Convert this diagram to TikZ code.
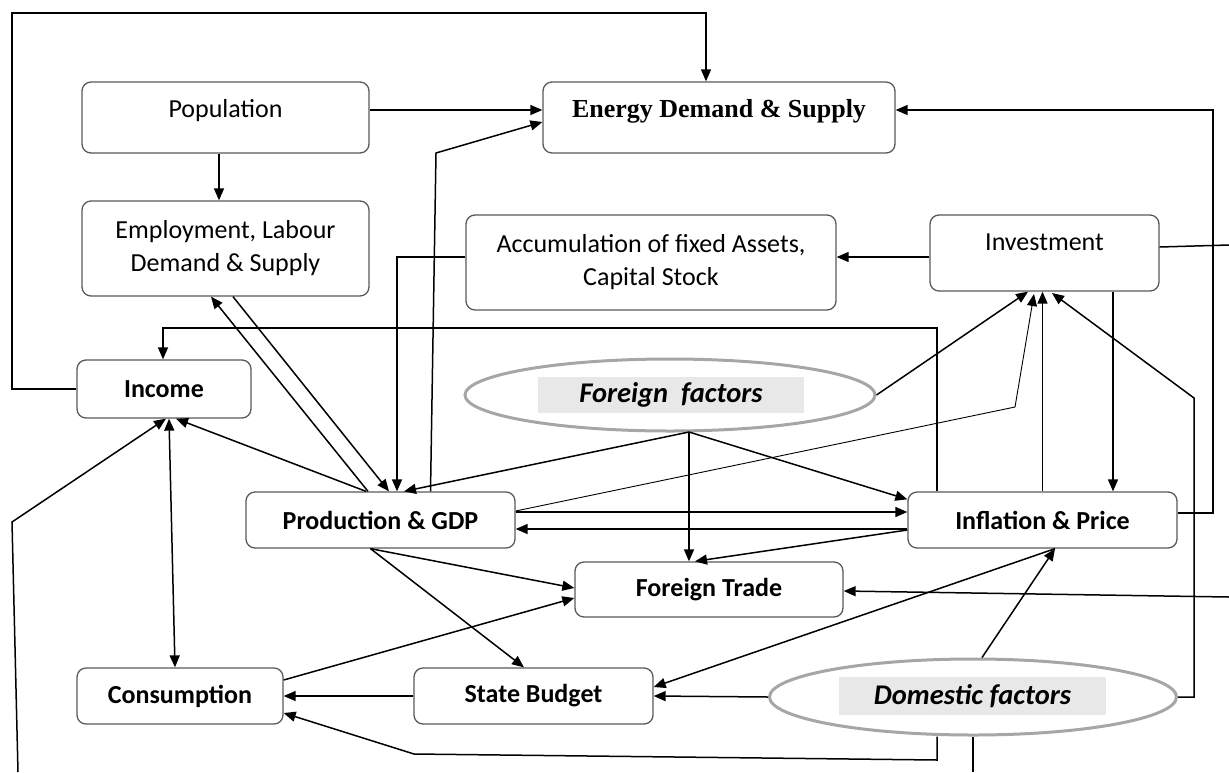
\documentclass[tikz,border=0pt]{standalone}
\usepackage{fontspec}
\setmainfont{Carlito}
\newfontfamily\edsfont{Liberation Serif}
\usetikzlibrary{arrows.meta,shapes.geometric}
\begin{document}
\begin{tikzpicture}[x=1pt, y=-1pt, line width=1.5pt,
		>={Triangle[length=12pt,width=10pt]},
		box/.style={draw=black!65, line width=1.3pt, rounded corners=9pt, inner sep=0pt, align=center, font=\fontsize{26}{33}\selectfont},
		key/.style={box, font=\fontsize{26}{33}\selectfont\bfseries},
		upper/.style={text height=18pt, text depth=#1},
		factor/.style={ellipse, draw=black!35, line width=3pt, inner sep=0pt},
		tag/.style={fill=black!9, inner sep=0pt, font=\fontsize{28.5}{31}\selectfont\bfseries\itshape}]
		\useasboundingbox (0,0) rectangle (1229,772);
		\node[box, minimum width=287pt, minimum height=71pt, upper=17.6pt] (pop) at (225.5,117.5) {Population};
		\node[box, minimum width=352pt, minimum height=71pt, upper=17.6pt, font=\fontsize{26}{31}\edsfont\bfseries] (eds) at (719,117.5) {Energy Demand \& Supply};
		\node[box, minimum width=287pt, minimum height=95pt] (emp) at (225.5,248.5) {Employment, Labour\\Demand \& Supply};
		\node[box, minimum width=370pt, minimum height=95pt] (acc) at (651,262.5) {Accumulation of fixed Assets,\\Capital Stock};
		\node[box, minimum width=229pt, minimum height=76pt, upper=22.6pt] (inv) at (1044.5,253) {Investment};
		\node[key, minimum width=174pt, minimum height=58pt] (inc) at (164,389) {Income};
		\node[key, minimum width=269pt, minimum height=56pt] (gdp) at (380.5,520) {Production \& GDP};
		\node[key, minimum width=269pt, minimum height=56pt] (inf) at (1042.5,520) {Inflation \& Price};
		\node[key, minimum width=268pt, minimum height=55pt] (trd) at (709,589.5) {Foreign Trade};
		\node[key, minimum width=206pt, minimum height=56pt] (con) at (180,696) {Consumption};
		\node[key, minimum width=239pt, minimum height=56pt] (bud) at (533.5,696) {State Budget};
		\node[factor, minimum width=410pt, minimum height=72pt] (ff) at (670,395) {};
		\node[tag, minimum width=266pt, minimum height=36pt] (fft) at (671,395) {Foreign\ \ factors};
		\node[factor, minimum width=407pt, minimum height=76pt] (df) at (973,697) {};
		\node[tag, minimum width=267pt, minimum height=38pt] (dft) at (972.5,696) {Domestic factors};
		\coordinate (fs) at (689,432);
		\coordinate (lft) at (18,772);
		\coordinate (rgt) at (1229,597);
		\coordinate (rgt2) at (1229,245);
		\coordinate (bot) at (973,772);
		\draw[->] (inc.west) -| (12,13) -| ([xshift=-13pt]eds.north);
		\draw[->] ([yshift=7.5pt]pop.east) -- ([yshift=7.5pt]eds.west);
		\draw[->] ([xshift=-6.5pt]pop.south) -- ([xshift=-6.5pt]emp.north);
		\draw[->] ([xshift=50pt]gdp.north) -- (436,153) -- ([yshift=-4.5pt]eds.west);
		\draw[->] (inv.west |- 0,257) -- (acc.east |- 0,257);
		\draw[->] (acc.west |- 0,257) -| ([xshift=16.5pt]gdp.north);
		\draw ([yshift=6pt]inv.east) -- (rgt2);
		\draw[->] ([yshift=7pt]inf.east) -| (1213,110) -- ([yshift=7.5pt]eds.east);
		\draw[->] (inv.south -| 1113,0) -- (inf.north -| 1113,0);
		\draw[->] (inf.north -| 937,0) |- (163,328) -- ([xshift=-1pt]inc.north);
		\draw[->] (inf.north) -- (inf.north |- inv.south);
		\draw[->] (ff.east) -- (inv.south -| 1028,0);
		\draw[->, line width=0.9pt] ([yshift=9pt]gdp.east) -- (1015,407) -- (1034,294);
		\draw[->] (df.east) -| (1194,398) -- (1052,293);
		\draw[->] (fs) -- ([xshift=23.5pt]gdp.north);
		\draw[->] (fs) -- (fs |- trd.north);
		\draw[->] (fs) -- ([yshift=-8pt]inf.north west);
		\draw[->] ([yshift=8pt]gdp.east) -- ([yshift=8pt]inf.west);
		\draw[->] ([yshift=-9pt]inf.west) -- ([yshift=-9pt]gdp.east);
		\draw[->] ([yshift=-10pt]inf.west) -- ([xshift=-14pt]trd.north);
		\draw[->] (rgt) -- ([yshift=-1.5pt]trd.east);
		\draw[->] ([xshift=-10pt]gdp.south) -- ([yshift=1.5pt]trd.west);
		\draw[->] ([xshift=-10pt]gdp.south) -- ([xshift=-9.5pt]bud.north);
		\draw[->] ([yshift=16pt]con.east) -- ([yshift=-8.5pt]trd.west);
		\draw[->] (bud.west) -- (con.east);
		\draw[->] (df.west) -- (bud.east);
		\draw[->] ([xshift=12.5pt]inf.south) -- ([yshift=9pt]bud.east);
		\draw[->] ([xshift=9pt]df.north) -- ([xshift=12.5pt]inf.south);
		\draw[->] (df.south -| 937,0) -- (937,760) -- (414,754) -- ([yshift=-17pt]con.east);
		\draw (df.south) -- (bot);
		\draw[<->] ([xshift=5pt]inc.south) -- ([xshift=-5pt]con.north);
		\draw[->] ([xshift=-14.5pt]gdp.north) -- ([xshift=12pt]inc.south);
		\draw[->] (lft) -- (12,522) -- ([xshift=2pt]inc.south);
		\draw[->] ([xshift=-12.5pt]gdp.north) -- ([xshift=-14.5pt]emp.south);
		\draw[->] ([xshift=7.5pt]emp.south) -- ([xshift=8.5pt]gdp.north);
	\end{tikzpicture}
\end{document}
